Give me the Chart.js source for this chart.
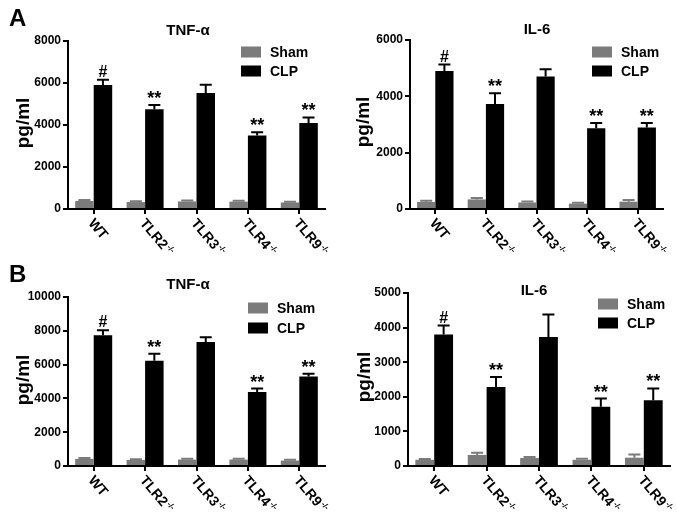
<!DOCTYPE html>
<html>
<head>
<meta charset="utf-8">
<script src="https://cdn.jsdelivr.net/npm/chart.js@4"></script>
<style>
  body { margin: 0; background: #fff; }
  #wrap { position: relative; width: 677px; height: 518px; }
  canvas { position: absolute; }
</style>
</head>
<body>
<div id="wrap">
  <canvas id="tnfA" width="338" height="258" style="left:0;top:0"></canvas>
  <canvas id="il6A" width="339" height="258" style="left:338px;top:0"></canvas>
  <canvas id="tnfB" width="338" height="260" style="left:0;top:258px"></canvas>
  <canvas id="il6B" width="339" height="260" style="left:338px;top:258px"></canvas>
</div>
<script>
const categories = ["WT", "TLR2", "TLR3", "TLR4", "TLR9"];
const knockout = ["", "-/-", "-/-", "-/-", "-/-"];
const seriesNames = ["Sham", "CLP"];

// A, TNF-alpha
const tnfA_sham = [380, 330, 360, 350, 310];
const tnfA_shamErr = [50, 40, 50, 40, 40];
const tnfA_clp = [5900, 4750, 5520, 3500, 4100];
const tnfA_clpErr = [250, 200, 400, 150, 260];
const tnfA_marks = ["#", "**", "", "**", "**"];
const tnfA_ticks = [0, 2000, 4000, 6000, 8000];

// A, IL-6
const il6A_sham = [250, 340, 230, 190, 260];
const il6A_shamErr = [40, 50, 40, 30, 60];
const il6A_clp = [4900, 3730, 4700, 2870, 2890];
const il6A_clpErr = [230, 380, 260, 180, 160];
const il6A_marks = ["#", "**", "", "**", "**"];
const il6A_ticks = [0, 2000, 4000, 6000];

// B, TNF-alpha
const tnfB_sham = [420, 360, 380, 380, 320];
const tnfB_shamErr = [60, 40, 50, 50, 50];
const tnfB_clp = [7730, 6230, 7340, 4380, 5300];
const tnfB_clpErr = [300, 410, 280, 200, 160];
const tnfB_marks = ["#", "**", "", "**", "**"];
const tnfB_ticks = [0, 2000, 4000, 6000, 8000, 10000];

// B, IL-6
const il6B_sham = [180, 320, 230, 180, 240];
const il6B_shamErr = [20, 60, 30, 30, 90];
const il6B_clp = [3800, 2280, 3730, 1710, 1900];
const il6B_clpErr = [260, 290, 650, 240, 340];
const il6B_marks = ["#", "**", "", "**", "**"];
const il6B_ticks = [0, 1000, 2000, 3000, 4000, 5000];

const SHAM_COLOR = "#7b7b7b";
const CLP_COLOR = "#000000";
const FONT = "'Liberation Sans', Arial, sans-serif";

function drawPanel(id, p) {
  const canvas = document.getElementById(id);
  const W = canvas.width, H = canvas.height;

  // draws everything the bar chart itself doesn't: error bars, marks, labels
  const decor = {
    id: "decor",
    afterDatasetsDraw(chart) {
      const ctx = chart.ctx;
      const y = chart.scales.y;
      ctx.save();
      ctx.lineWidth = 2;
      chart.data.datasets.forEach((ds, i) => {
        const meta = chart.getDatasetMeta(i);
        meta.data.forEach((bar, j) => {
          const top = y.getPixelForValue(ds.data[j] + ds.errors[j]);
          ctx.strokeStyle = ds.backgroundColor;
          ctx.beginPath();
          ctx.moveTo(bar.x, bar.y);
          ctx.lineTo(bar.x, top);
          ctx.moveTo(bar.x - 6, top);
          ctx.lineTo(bar.x + 6, top);
          ctx.stroke();
          if (ds.marks && ds.marks[j]) {
            ctx.fillStyle = "#000";
            ctx.textAlign = "center";
            ctx.textBaseline = "alphabetic";
            if (ds.marks[j] === "#") {
              ctx.font = "bold 16px " + FONT;
              ctx.fillText("#", bar.x, top - 3);
            } else {
              ctx.font = "bold 18px " + FONT;
              ctx.fillText(ds.marks[j], bar.x, top - 1);
            }
          }
        });
      });
      ctx.restore();
    },
    afterDraw(chart) {
      const ctx = chart.ctx;
      const area = chart.chartArea;
      const x = chart.scales.x;
      ctx.save();
      ctx.fillStyle = "#000";

      // title
      ctx.font = "bold 15px " + FONT;
      ctx.textAlign = "center";
      ctx.textBaseline = "middle";
      ctx.fillText(p.title, p.titleX, p.titleY);

      // legend
      chart.data.datasets.forEach((ds, i) => {
        const cy = p.legY + i * p.legGap;
        ctx.fillStyle = ds.backgroundColor;
        ctx.fillRect(p.legX, cy - 5.5, 20, 11);
        ctx.fillStyle = "#000";
        ctx.font = "bold 14px " + FONT;
        ctx.textAlign = "left";
        ctx.fillText(ds.label, p.legX + 29, cy + 1);
      });

      // y axis title
      ctx.save();
      ctx.translate(p.yLabX, p.yLabY);
      ctx.rotate(-Math.PI / 2);
      ctx.font = "bold 19px " + FONT;
      ctx.textAlign = "center";
      ctx.fillText("pg/ml", 0, 0);
      ctx.restore();

      // rotated category labels with knockout superscript
      chart.data.labels.forEach((lab, j) => {
        const tx = x.getPixelForTick(j);
        ctx.save();
        ctx.translate(tx - 3, area.bottom + 12);
        ctx.rotate(50 * Math.PI / 180);
        ctx.font = "bold 14px " + FONT;
        ctx.textAlign = "left";
        ctx.textBaseline = "middle";
        ctx.fillText(lab, 0, 0);
        if (knockout[j]) {
          const w = ctx.measureText(lab).width;
          ctx.font = "bold 8px " + FONT;
          ctx.fillText(knockout[j], w + 1, -4);
        }
        ctx.restore();
      });

      // panel letter
      if (p.letter) {
        ctx.font = "bold 24px " + FONT;
        ctx.textAlign = "left";
        ctx.textBaseline = "top";
        ctx.fillText(p.letter, 9, p.letterY);
      }
      ctx.restore();
    }
  };

  return new Chart(canvas, {
    type: "bar",
    data: {
      labels: categories,
      datasets: [
        { label: seriesNames[0], data: p.sham, errors: p.shamErr, backgroundColor: SHAM_COLOR },
        { label: seriesNames[1], data: p.clp, errors: p.clpErr, marks: p.marks, backgroundColor: CLP_COLOR }
      ]
    },
    options: {
      responsive: false,
      animation: false,
      events: [],
      categoryPercentage: 0.72,
      barPercentage: 1.0,
      layout: { padding: { left: 0, top: p.top, right: W - p.right, bottom: 0 } },
      plugins: { legend: { display: false }, title: { display: false }, tooltip: { enabled: false } },
      scales: {
        x: {
          ticks: { display: false },
          grid: { drawOnChartArea: false, offset: false, color: "#000", lineWidth: 2, tickLength: 5 },
          border: { color: "#000", width: 2 },
          afterFit: (s) => { s.height = H - p.bottom; }
        },
        y: {
          min: 0,
          max: p.ticks[p.ticks.length - 1],
          afterBuildTicks: (s) => { s.ticks = p.ticks.map((v) => ({ value: v })); },
          ticks: {
            color: "#000", padding: 2,
            font: { family: FONT, weight: "bold", size: 12 },
            callback: (v) => String(v)
          },
          grid: { drawOnChartArea: false, color: "#000", lineWidth: 2, tickLength: 5 },
          border: { color: "#000", width: 2 },
          afterFit: (s) => { s.width = p.left; }
        }
      }
    },
    plugins: [decor]
  });
}

drawPanel("tnfA", {
  sham: tnfA_sham, shamErr: tnfA_shamErr, clp: tnfA_clp, clpErr: tnfA_clpErr,
  marks: tnfA_marks, ticks: tnfA_ticks, title: "TNF-\u03b1",
  left: 68, top: 41, right: 325, bottom: 209,
  titleX: 188, titleY: 31, legX: 241, legY: 52, legGap: 19,
  yLabX: 24, yLabY: 123, letter: "A", letterY: 7
});
drawPanel("il6A", {
  sham: il6A_sham, shamErr: il6A_shamErr, clp: il6A_clp, clpErr: il6A_clpErr,
  marks: il6A_marks, ticks: il6A_ticks, title: "IL-6",
  left: 72, top: 40, right: 325, bottom: 209,
  titleX: 199, titleY: 30, legX: 254, legY: 52, legGap: 19,
  yLabX: 26, yLabY: 122
});
drawPanel("tnfB", {
  sham: tnfB_sham, shamErr: tnfB_shamErr, clp: tnfB_clp, clpErr: tnfB_clpErr,
  marks: tnfB_marks, ticks: tnfB_ticks, title: "TNF-\u03b1",
  left: 68, top: 39, right: 325, bottom: 208,
  titleX: 188, titleY: 27, legX: 248, legY: 50, legGap: 20,
  yLabX: 24, yLabY: 122, letter: "B", letterY: 5
});
drawPanel("il6B", {
  sham: il6B_sham, shamErr: il6B_shamErr, clp: il6B_clp, clpErr: il6B_clpErr,
  marks: il6B_marks, ticks: il6B_ticks, title: "IL-6",
  left: 70, top: 35, right: 332, bottom: 208,
  titleX: 196, titleY: 33, legX: 260, legY: 46, legGap: 19,
  yLabX: 27, yLabY: 119
});
</script>
</body>
</html>
